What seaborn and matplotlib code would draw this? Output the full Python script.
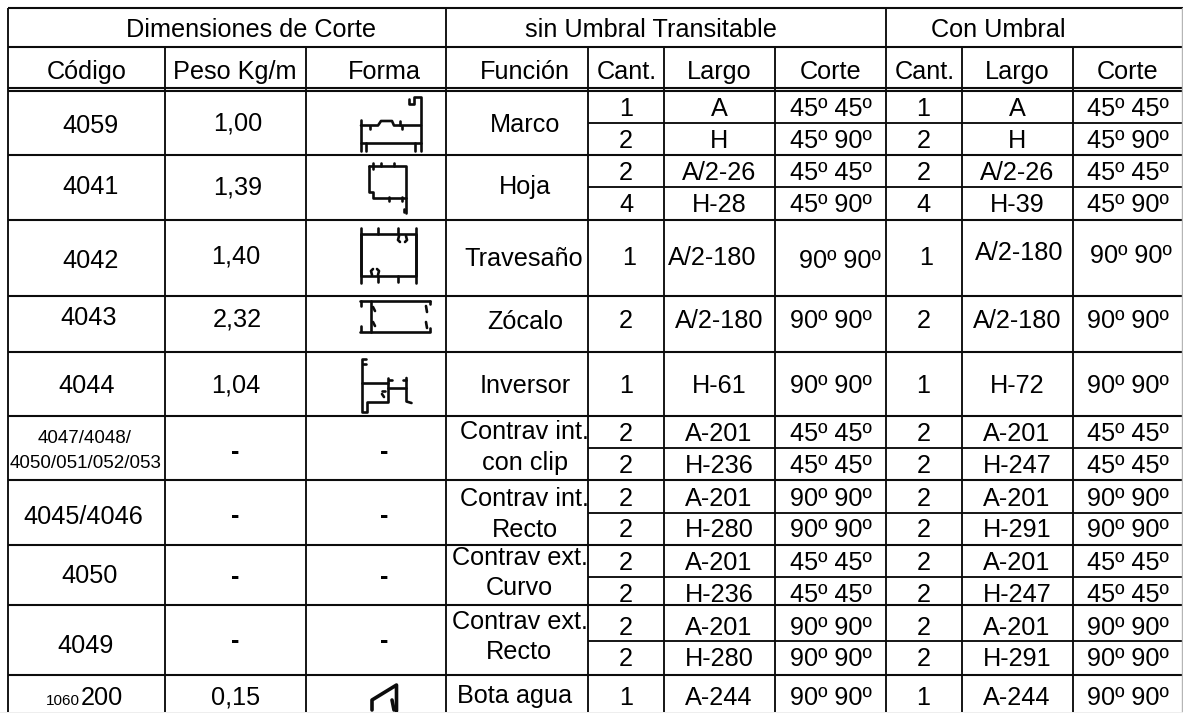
import matplotlib.pyplot as plt
import pandas as pd
import seaborn as sns

# Table contents
groups = ['Dimensiones de Corte', 'sin Umbral Transitable', 'Con Umbral']
headers = ['Código', 'Peso Kg/m', 'Forma', 'Función', 'Cant.', 'Largo', 'Corte', 'Cant.', 'Largo', 'Corte']
codigos = ['4059', '4041', '4042', '4043', '4044', '4045/4046', '4050', '4049']
pesos = ['1,00', '1,39', '1,40', '2,32', '1,04', '0,15']
funciones = ['Marco', 'Hoja', 'Travesaño', 'Zócalo', 'Inversor', 'Contrav int.', 'con clip',
             'Contrav int.', 'Recto', 'Contrav ext.', 'Curvo', 'Contrav ext.', 'Recto', 'Bota agua']
cant_sin = ['1', '2', '2', '4', '1', '2', '1', '2', '2', '2', '2', '2', '2', '2', '2', '1']
cant_con = ['1', '2', '2', '4', '1', '2', '1', '2', '2', '2', '2', '2', '2', '2', '2', '1']
largo_sin = ['A', 'H', 'A/2-26', 'H-28', 'A/2-180', 'A/2-180', 'H-61', 'A-201', 'H-236',
             'A-201', 'H-280', 'A-201', 'H-236', 'A-201', 'H-280', 'A-244']
largo_con = ['A', 'H', 'A/2-26', 'H-39', 'A/2-180', 'A/2-180', 'H-72', 'A-201', 'H-247',
             'A-201', 'H-291', 'A-201', 'H-247', 'A-201', 'H-291', 'A-244']
corte_sin = ['45º 45º', '45º 90º', '45º 45º', '45º 90º', '90º 90º', '90º 90º', '90º 90º', '45º 45º',
             '45º 45º', '90º 90º', '90º 90º', '45º 45º', '45º 45º', '90º 90º', '90º 90º', '90º 90º']
corte_con = corte_sin.copy()

# Layout in image pixels
W, H = 1183, 713
h_full = [8, 47, 87.7, 90.7, 155, 220, 296, 351.7, 416, 480, 544.7, 605, 675]
h_sub = [122.7, 187, 448, 512.7, 577, 641]
v_full = [8.4, 446, 886]
v_sub = [165, 306, 588.5, 664, 775, 962, 1073]
row_y = [116, 147.7, 180.3, 212.3, 265, 328.5, 393.3, 441, 472.7, 505.7, 537.3, 570, 601.7, 635, 666, 705]
dash_y = [458.5, 522.8, 584.2, 648.2]

# Profile outlines, one list of polylines per shape
marco = [
    [(409, 99), (409, 104), (414, 104), (414, 97), (421, 97), (421, 151)],
    [(361, 120), (361, 151)],
    [(361, 125.5), (378, 125.5), (381, 121), (392, 121), (394, 125.5), (421, 125.5)],
    [(361, 142.5), (421, 142.5)],
    [(366, 143), (366, 151)], [(415, 143), (415, 151)],
    [(370, 126), (370, 129)], [(400, 121), (400, 125)], [(402, 126), (402, 129)],
]
hoja = [
    [(369.5, 166), (406.5, 166), (406.5, 213)],
    [(369.5, 166), (369.5, 191.5), (373.5, 191.5), (373.5, 197.5), (406.5, 197.5)],
    [(373, 163), (373, 169)], [(381, 163), (381, 166)], [(394, 163), (394, 166)],
    [(389, 197), (389, 201)], [(402, 197), (402, 201)], [(404, 209), (404, 212)],
]
travesano = [
    [(361, 234), (416.5, 234), (416.5, 276), (361, 276), (361, 234)],
    [(361, 228), (361, 283)], [(416.5, 228), (416.5, 283)],
    [(378, 228), (378, 234)], [(398, 228), (398, 234)],
    [(378, 276), (378, 282)], [(398, 276), (398, 282)],
    [(399, 236), (398, 240), (400, 242)], [(406, 236), (407, 240), (405, 242)],
    [(372, 275), (371, 271), (373, 269)], [(378, 275), (379, 271), (377, 269)],
]
zocalo = [
    [(360, 300.5), (430.5, 300.5)],
    [(360, 331.5), (430.5, 331.5)],
    [(371.5, 300.5), (371.5, 331.5)],
    [(361, 301), (361, 306)], [(361, 326), (361, 331)],
    [(373, 307), (375, 311)], [(373, 322), (375, 326)],
    [(426, 306), (427, 312)], [(426, 322), (427, 328)],
    [(430, 301), (430, 304)], [(430, 328), (430, 331)],
]
inversor = [
    [(366, 359), (362.5, 359), (362.5, 411.5), (367.5, 411.5), (367.5, 401.5), (388.5, 401.5), (388.5, 378)],
    [(362.5, 382.5), (388.5, 382.5)],
    [(388.5, 387.5), (406.5, 387.5)],
    [(406.5, 378), (406.5, 401.5), (411.5, 403)],
    [(363, 364), (366, 364)], [(389, 380), (392, 380)], [(403, 380), (406, 380)],
    [(382, 391), (385, 391)], [(382, 394), (384, 397)],
]
bota = [
    [(372, 710), (372, 700), (396.5, 685), (396.5, 711)],
    [(392, 700), (394, 710)],
]
profiles = [marco, hoja, travesano, zocalo, inversor, bota]

sns.set_theme(style='white')
plt.rcParams['font.family'] = ['Liberation Sans', 'DejaVu Sans']

fig = plt.figure(figsize=(W / 100, H / 100), dpi=100)
ax = fig.add_axes([0, 0, 1, 1])
ink = '#0c0c0c'


def put(texts, xs, ys, size=18.2, **kw):
    for t, x, y in zip(texts, xs, ys):
        ax.text(x, y, t, ha='center', va='baseline', fontsize=size, color='black', **kw)


# Grid
for y in h_full:
    ax.plot([8.4, W], [y, y], color=ink, lw=1.5, solid_capstyle='butt')
for y in h_sub:
    ax.plot([588.5, W], [y, y], color=ink, lw=1.35, solid_capstyle='butt')
for x in v_full:
    ax.plot([x, x], [8, H], color=ink, lw=1.35, solid_capstyle='butt')
for x in v_sub:
    ax.plot([x, x], [47, H], color=ink, lw=1.35, solid_capstyle='butt')
ax.plot([W - 0.7, W - 0.7], [8, H], color='#b5b5b5', lw=1.0)
ax.axhspan(711.5, H, color='#eeeeee', lw=0, zorder=3)

# Section outlines are drawn through seaborn
for shape in profiles:
    line_w = 2.6 if shape is bota else 1.9
    for poly in shape:
        pts = pd.DataFrame(poly, columns=['x', 'y'])
        sns.lineplot(data=pts, x='x', y='y', sort=False, estimator=None, ax=ax,
                     color=ink, lw=line_w, legend=False)

# Headers
put(groups, [250.6, 651, 998], [36.7] * 3)
put(headers, [86.5, 235, 384, 525, 626.4, 719, 831, 924.5, 1017, 1128], [79] * 10)

# First columns
put(codigos, [90.3, 91, 91, 89, 86.7, 83.8, 89.7, 86],
    [132.7, 194, 267.7, 325, 393, 524, 583.3, 653.3])
put(['4047/4048/', '4050/051/052/053'], [85, 86], [443.3, 467.7], size=13.5)
ax.text(80, 705, '1060', ha='right', va='baseline', fontsize=11, color='black')
ax.text(81, 705, '200', ha='left', va='baseline', fontsize=18.2, color='black')

put(pesos, [238, 237.5, 236, 237, 235.7, 235.5], [130.7, 195, 263.3, 326.7, 392.3, 705])
put(['-'] * 4, [235.4] * 4, dash_y, weight='bold')
put(['-'] * 4, [384.6] * 4, dash_y, weight='bold')

put(funciones, [525, 525, 524, 525, 525, 524.6, 525.4, 524.6, 525, 519.7, 519, 519.7, 519, 514.7],
    [131.7, 194, 266, 329.3, 393.3, 439.3, 470, 506, 536.7, 565, 595, 629.3, 659.3, 703.3])

# Repeated columns, a few cells sit off centre in the original
cant_x = [626] * 16
cant_x[4] = 629
put(cant_sin, cant_x, row_y)
cant_x = [923.6] * 16
cant_x[4] = 926
put(cant_con, cant_x, row_y)

largo_x = [719] * 16
largo_x[4] = 712.5
put(largo_sin, largo_x, row_y)
largo_x = [1017] * 16
largo_x[4] = 1019.5
largo_y = row_y.copy()
largo_y[4] = 260
put(largo_con, largo_x, largo_y)

corte_x = [830.6] * 16
corte_x[4] = 840.3
corte_y = row_y.copy()
corte_y[4] = 267.7
put(corte_sin, corte_x, corte_y)
corte_x = [1128] * 16
corte_x[4] = 1131
corte_y = row_y.copy()
corte_y[4] = 263.3
put(corte_con, corte_x, corte_y)

ax.set_xlim(0, W)
ax.set_ylim(H, 0)
ax.set_axis_off()

fig.savefig('out.png', dpi=100)
